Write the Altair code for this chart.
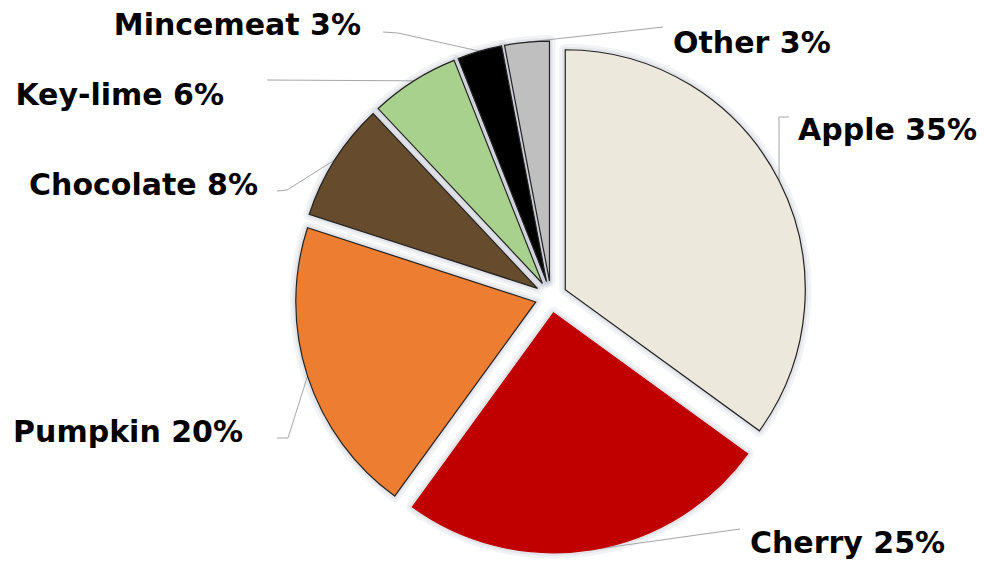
import altair as alt
import pandas as pd

# ---- data ----
pies = ["Apple", "Cherry", "Pumpkin", "Chocolate", "Key-lime", "Mincemeat", "Other"]
shares = [35, 25, 20, 8, 6, 3, 3]
colors = ["#ECE9DC", "#C00000", "#ED7D31", "#674B2D", "#A9D18E", "#000000", "#BFBFBF"]

# ---- layout (annotation placement, not data) ----
W, H = 984, 564
CX, CY = 551, 297
R = 240
EXPLODE = 16
label_x = [798, 750, 243, 258, 224, 361, 673]
label_y = [140, 553, 442, 195, 105, 35, 53]
label_side = ["left", "left", "right", "right", "right", "right", "left"]
elbow_x = [779, 740, 288, 287, 267, 398, 663]
elbow_y = [117, 529, 438, 190, 80, 33, 27]
tail_x = [789, 740, 277, 277, 267, 383, 663]
tail_y = [117, 529, 438, 191, 80, 32, 27]

df = pd.DataFrame({
    "pie": pies, "share": shares, "order": list(range(len(pies))),
    "lx": label_x, "ly": label_y, "side": label_side,
    "ex": elbow_x, "ey": elbow_y, "tx": tail_x, "ty": tail_y,
})

base = (
    alt.Chart(df)
    .transform_joinaggregate(total="sum(share)")
    .transform_window(cum="sum(share)", sort=[alt.SortField("order")])
    .transform_calculate(
        t0="2*PI*(datum.cum - datum.share)/datum.total",
        t1="2*PI*datum.cum/datum.total",
    )
    .transform_calculate(mid="(datum.t0 + datum.t1)/2")
    .transform_calculate(
        cx=f"{CX} + {EXPLODE}*sin(datum.mid)",
        cy=f"{CY} - {EXPLODE}*cos(datum.mid)",
        ax=f"{CX} + {R + EXPLODE}*sin(datum.mid)",
        ay=f"{CY} - {R + EXPLODE}*cos(datum.mid)",
        label="datum.pie + ' ' + datum.share + '%'",
    )
)

arc_enc = dict(
    theta=alt.Theta("t0:Q", scale=None),
    theta2="t1:Q",
    x=alt.X("cx:Q", scale=None),
    y=alt.Y("cy:Q", scale=None),
)

halo1 = base.mark_arc(radius=R, fill="#ffffff", stroke="#7d8799", strokeOpacity=0.10,
                      strokeWidth=12, strokeJoin="round").encode(**arc_enc)
halo2 = base.mark_arc(radius=R, fill="#ffffff", stroke="#7d8799", strokeOpacity=0.12,
                      strokeWidth=6, strokeJoin="round").encode(**arc_enc)

leader1 = base.mark_rule(color="#A6A6A6", strokeWidth=1).encode(
    x=alt.X("ax:Q", scale=None), y=alt.Y("ay:Q", scale=None),
    x2="ex:Q", y2="ey:Q",
)
leader2 = base.mark_rule(color="#A6A6A6", strokeWidth=1).encode(
    x=alt.X("ex:Q", scale=None), y=alt.Y("ey:Q", scale=None),
    x2="tx:Q", y2="ty:Q",
)

arcs = base.mark_arc(radius=R, strokeWidth=1.2).encode(
    color=alt.Color("pie:N", scale=alt.Scale(domain=pies, range=colors), legend=None),
    stroke=alt.condition("datum.pie == 'Cherry'", alt.value("#C00000"), alt.value("#222222")),
    **arc_enc,
)

text_kw = dict(font="DejaVu Sans", fontWeight="bold", fontSize=30,
               baseline="alphabetic", color="#000000")
text_left = base.transform_filter("datum.side == 'left'").mark_text(align="left", **text_kw).encode(
    x=alt.X("lx:Q", scale=None), y=alt.Y("ly:Q", scale=None), text="label:N")
text_right = base.transform_filter("datum.side == 'right'").mark_text(align="right", **text_kw).encode(
    x=alt.X("lx:Q", scale=None), y=alt.Y("ly:Q", scale=None), text="label:N")

chart = (
    alt.layer(halo1, halo2, leader1, leader2, arcs, text_left, text_right)
    .properties(width=W, height=H, autosize="none", padding=0, background="#ffffff")
    .configure_view(stroke=None)
)

chart.save("out.html", embed_options={"renderer": "svg", "actions": False})
